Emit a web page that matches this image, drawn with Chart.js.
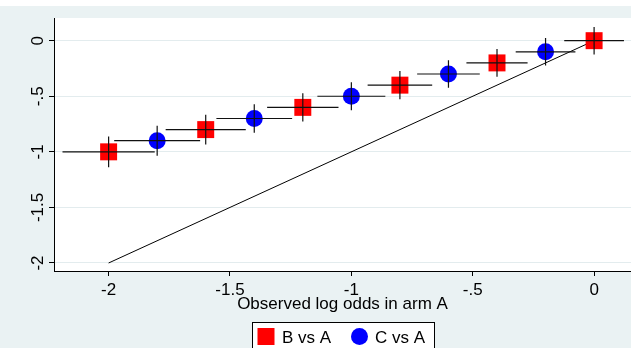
<!DOCTYPE html>
<html>
<head>
<meta charset="utf-8">
<script src="https://cdn.jsdelivr.net/npm/chart.js@4.4.1/dist/chart.umd.min.js"></script>
<style>
  html, body { margin: 0; padding: 0; background: #fff; }
  #wrap { width: 631px; height: 348px; position: relative; }
</style>
</head>
<body>
<div id="wrap"><canvas id="myChart" width="631" height="348"></canvas></div>
<script>
// B vs A (red squares)
const xB = [-2, -1.6, -1.2, -0.8, -0.4, 0];
const yB = [-1, -0.8, -0.6, -0.4, -0.2, 0];
const errXB = [0.19, 0.165, 0.147, 0.133, 0.126, 0.123];
const errYB = [0.138, 0.133, 0.128, 0.127, 0.124, 0.124];

// C vs A (blue circles)
const xC = [-1.8, -1.4, -1.0, -0.6, -0.2];
const yC = [-0.9, -0.7, -0.5, -0.3, -0.1];
const errXC = [0.177, 0.156, 0.14, 0.129, 0.123];
const errYC = [0.135, 0.129, 0.126, 0.124, 0.124];

// line of equality
const xLine = [-2, 0];
const yLine = [-2, 0];

const xTickVals = [-2, -1.5, -1, -0.5, 0];
const xTickLabels = ['-2', '-1.5', '-1', '-.5', '0'];
const yTickVals = [-2, -1.5, -1, -0.5, 0];
const yTickLabels = ['-2', '-1.5', '-1', '-.5', '0'];

const seriesNames = ['B vs A', 'C vs A'];
const seriesColors = ['#ff0000', '#0000ff'];

const FONT = "'Liberation Sans', Arial, Helvetica, sans-serif";
const BG = '#eaf2f3';

function toPoints(xs, ys) {
    return xs.map((x, i) => ({ x: x, y: ys[i] }));
}

const backgroundPlugin = {
    id: 'bg',
    beforeDraw(chart) {
        const ctx = chart.ctx, a = chart.chartArea;
        ctx.save();
        ctx.fillStyle = '#ffffff';
        ctx.fillRect(0, 0, chart.width, chart.height);
        ctx.fillStyle = BG;
        ctx.fillRect(0, 6, chart.width, chart.height - 6);
        ctx.fillStyle = '#ffffff';
        ctx.fillRect(a.left, a.top, a.right - a.left, a.bottom - a.top);
        ctx.restore();
    }
};

// crosshair error bars, drawn over the markers
const errorBarPlugin = {
    id: 'errbars',
    afterDatasetsDraw(chart) {
        const ctx = chart.ctx;
        const xs = chart.scales.x, ys = chart.scales.y;
        const sets = [[xB, yB, errXB, errYB], [xC, yC, errXC, errYC]];
        ctx.save();
        ctx.strokeStyle = '#111';
        ctx.lineWidth = 1.2;
        sets.forEach(s => {
            s[0].forEach((x, i) => {
                const y = s[1][i];
                ctx.beginPath();
                ctx.moveTo(xs.getPixelForValue(x - s[2][i]), ys.getPixelForValue(y));
                ctx.lineTo(xs.getPixelForValue(x + s[2][i]), ys.getPixelForValue(y));
                ctx.moveTo(xs.getPixelForValue(x), ys.getPixelForValue(y - s[3][i]));
                ctx.lineTo(xs.getPixelForValue(x), ys.getPixelForValue(y + s[3][i]));
                ctx.stroke();
            });
        });
        ctx.restore();
    }
};

// rotated y tick labels and the boxed legend
const labelsPlugin = {
    id: 'labels',
    afterDraw(chart) {
        const ctx = chart.ctx;
        const ys = chart.scales.y;
        ctx.save();
        ctx.fillStyle = '#000';
        ctx.font = '17px ' + FONT;
        ctx.textAlign = 'center';
        ctx.textBaseline = 'alphabetic';
        yTickVals.forEach((v, i) => {
            ctx.save();
            ctx.translate(42.5, ys.getPixelForValue(v));
            ctx.rotate(-Math.PI / 2);
            ctx.fillText(yTickLabels[i], 0, 0);
            ctx.restore();
        });

        // legend
        ctx.fillStyle = '#fff';
        ctx.fillRect(252.5, 322.5, 182, 30);
        ctx.strokeStyle = '#000';
        ctx.lineWidth = 1;
        ctx.strokeRect(252.5, 322.5, 182, 30);

        ctx.fillStyle = seriesColors[0];
        ctx.fillRect(257.5, 328, 17, 17);
        ctx.fillStyle = seriesColors[1];
        ctx.beginPath();
        ctx.arc(359.5, 336.5, 8.5, 0, Math.PI * 2);
        ctx.fill();

        ctx.fillStyle = '#000';
        ctx.textAlign = 'left';
        ctx.fillText(seriesNames[0], 282, 342.5);
        ctx.fillText(seriesNames[1], 375, 342.5);
        ctx.restore();
    }
};

const ctx = document.getElementById('myChart');

const myChart = new Chart(ctx, {
    type: 'scatter',
    data: {
        datasets: [
            {
                label: seriesNames[0],
                data: toPoints(xB, yB),
                pointStyle: 'rect',
                pointRadius: 12,
                backgroundColor: seriesColors[0],
                borderWidth: 0
            },
            {
                label: seriesNames[1],
                data: toPoints(xC, yC),
                pointStyle: 'circle',
                pointRadius: 8.5,
                backgroundColor: seriesColors[1],
                borderWidth: 0
            },
            {
                type: 'line',
                label: 'equality',
                data: toPoints(xLine, yLine),
                borderColor: '#000',
                borderWidth: 1,
                pointRadius: 0,
                fill: false
            }
        ]
    },
    options: {
        responsive: false,
        animation: false,
        devicePixelRatio: 1,
        layout: { autoPadding: false, padding: { top: 18, left: 0, right: 0, bottom: 0 } },
        plugins: {
            legend: { display: false },
            tooltip: { enabled: false }
        },
        scales: {
            x: {
                type: 'linear',
                min: -2.225,
                max: 0.152,
                afterBuildTicks: (scale) => { scale.ticks = xTickVals.map(v => ({ value: v })); },
                afterFit: (scale) => {
                    scale.height = 77;
                    scale.paddingLeft = 0;
                    scale.paddingRight = 0;
                },
                ticks: {
                    color: '#000',
                    font: { family: FONT, size: 17 },
                    padding: 4,
                    maxRotation: 0,
                    callback: (v) => xTickLabels[xTickVals.indexOf(v)]
                },
                grid: {
                    drawOnChartArea: false,
                    drawTicks: true,
                    tickLength: 5,
                    tickColor: '#000'
                },
                border: { color: '#000', width: 1 },
                title: {
                    display: true,
                    text: 'Observed log odds in arm A',
                    color: '#000',
                    font: { family: FONT, size: 17, lineHeight: 1.2 },
                    padding: { top: 0, bottom: 33 }
                }
            },
            y: {
                type: 'linear',
                min: -2.072,
                max: 0.204,
                afterBuildTicks: (scale) => { scale.ticks = yTickVals.map(v => ({ value: v })); },
                afterFit: (scale) => {
                    scale.width = 54;
                    scale.paddingTop = 0;
                    scale.paddingBottom = 0;
                },
                ticks: {
                    color: 'rgba(0,0,0,0)',
                    font: { family: FONT, size: 17 }
                },
                grid: {
                    color: '#e3ecee',
                    lineWidth: 1,
                    drawTicks: true,
                    tickLength: 5,
                    tickColor: '#000'
                },
                border: { color: '#000', width: 1 }
            }
        }
    },
    plugins: [backgroundPlugin, errorBarPlugin, labelsPlugin]
});
</script>
</body>
</html>
